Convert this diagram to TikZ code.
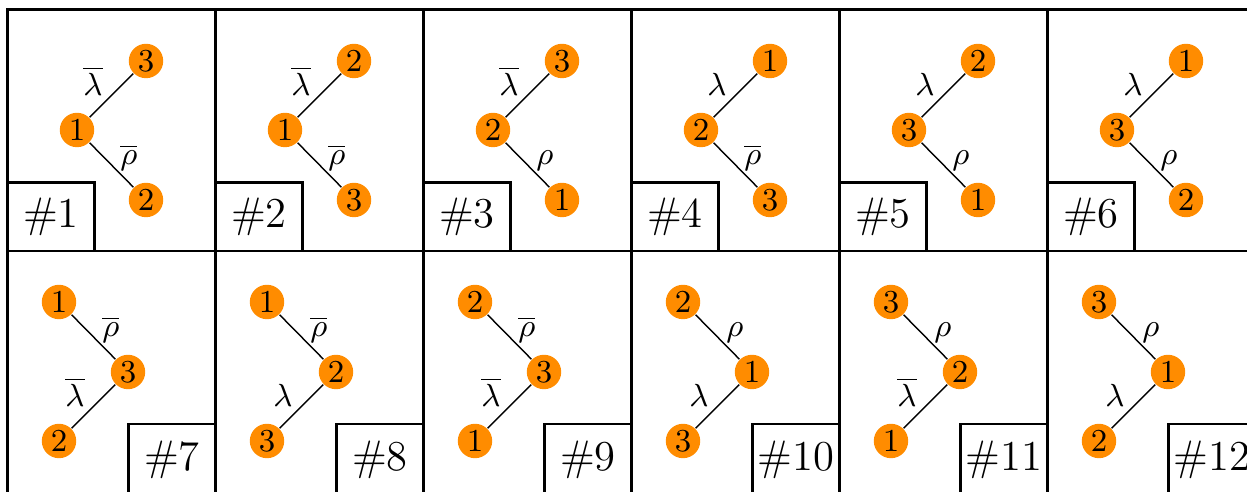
\documentclass[tikz,border=0pt]{standalone}
\definecolor{vtxorange}{RGB}{255,140,0}
\begin{document}
\begin{tikzpicture}[x=0.2817pt, y=-0.2817pt,
    vtx/.style={circle, fill=vtxorange, inner sep=0pt, minimum size=9.7pt, font=\small},
    lbl/.style={font=\small, inner sep=2.3pt},
    tag/.style={draw, thick, outer sep=0pt, inner sep=0pt, minimum width=24.5pt, minimum height=19.4pt, font=\large}]
    \useasboundingbox (0,0) rectangle (1247,492);
    % top row: centre on the left, two leaves on the right
    \foreach \n/\vc/\vu/\vd/\eu/\ed [count=\i from 0] in {1/1/3/2/\overline{\lambda}/\overline{\rho}, 2/1/2/3/\overline{\lambda}/\overline{\rho}, 3/2/3/1/\overline{\lambda}/\rho, 4/2/1/3/\lambda/\overline{\rho}, 5/3/2/1/\lambda/\rho, 6/3/1/2/\lambda/\rho} {
        \draw[thick] (7.5+208*\i,9.5) rectangle (215.5+208*\i,251);
        \node[vtx] (c\n) at (77+208*\i,130) {$\vc$};
        \node[vtx] (u\n) at (146+208*\i,61) {$\vu$};
        \node[vtx] (d\n) at (146+208*\i,200) {$\vd$};
        \draw (c\n) -- node[lbl, anchor=base east] {$\eu$} (u\n);
        \draw (c\n) -- node[lbl, anchor=base west] {$\ed$} (d\n);
        \node[tag, anchor=south west] (tag\n) at (7.5+208*\i,251) {\#\n};
    }
    % bottom row: centre on the right, two leaves on the left
    \foreach \n/\vu/\vc/\vd/\eu/\ed [count=\i from 0] in {7/1/3/2/\overline{\rho}/\overline{\lambda}, 8/1/2/3/\overline{\rho}/\lambda, 9/2/3/1/\overline{\rho}/\overline{\lambda}, 10/2/1/3/\rho/\lambda, 11/3/2/1/\rho/\overline{\lambda}, 12/3/1/2/\rho/\lambda} {
        \draw[thick] (7.5+208*\i,251) rectangle (215.5+208*\i,496);
        \node[vtx] (u\n) at (59+208*\i,302) {$\vu$};
        \node[vtx] (c\n) at (128+208*\i,372) {$\vc$};
        \node[vtx] (d\n) at (59+208*\i,441) {$\vd$};
        \draw (u\n) -- node[lbl, anchor=base west] {$\eu$} (c\n);
        \draw (c\n) -- node[lbl, anchor=base east] {$\ed$} (d\n);
        \node[tag, anchor=north east, minimum height=20.4pt] (tag\n) at (215.5+208*\i,424) {\#\n};
    }
\end{tikzpicture}
\end{document}
